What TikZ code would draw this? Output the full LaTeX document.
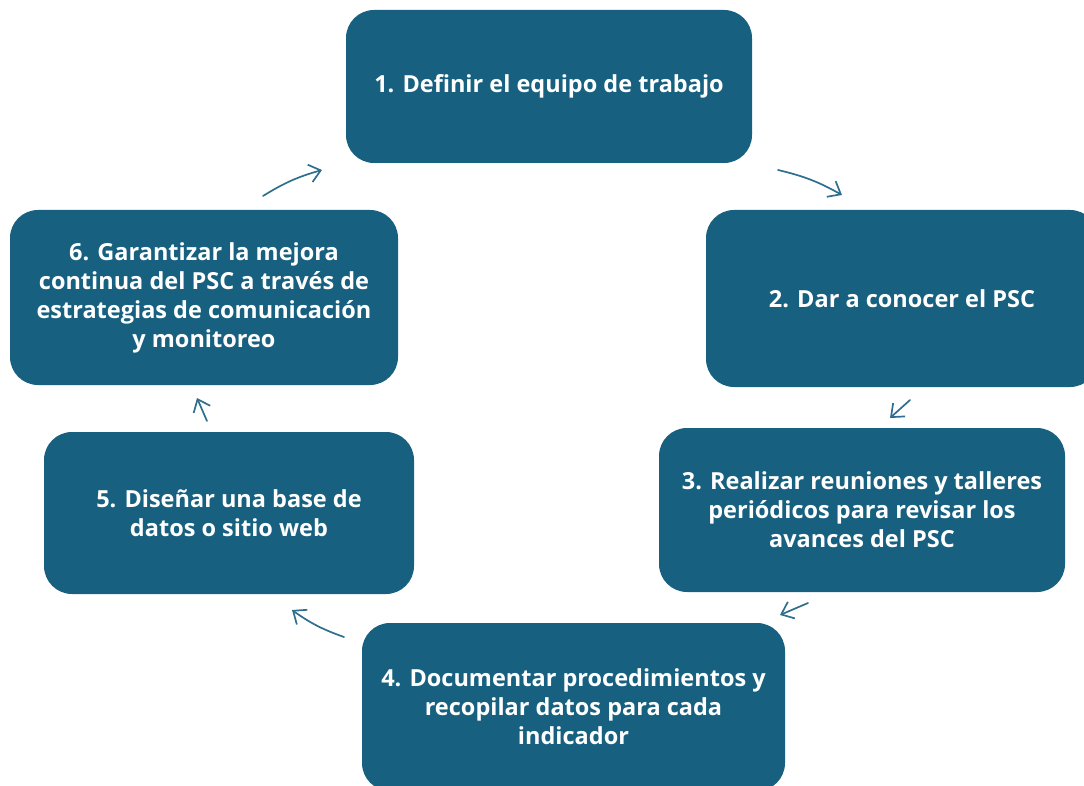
\documentclass[tikz,border=0pt]{standalone}
\usepackage{fontspec}
\setmainfont{Open Sans}
\usetikzlibrary{arrows.meta,positioning}
\definecolor{boxblue}{HTML}{17607F}
\definecolor{arrowblue}{HTML}{2F6E8E}
\tikzset{
  stepbox/.style={fill=boxblue, draw=none, rounded corners=28pt, align=center,
    text=white, font=\fontsize{23.5}{29}\selectfont\bfseries, inner sep=0pt},
  cyc/.style={draw=arrowblue, line width=1.7pt, line cap=round,
    -{Straight Barb[length=11pt,width=18pt,line width=1.7pt]}, bend left=8}
}
\begin{document}
\begin{tikzpicture}[x=1pt,y=-1pt]
\useasboundingbox (0,0) rectangle (1084,786);
\clip (0,0) rectangle (1084,786);
% boxes
\node[stepbox, minimum width=406pt, minimum height=153pt] (n1) at (549,86.5) {1. Definir el equipo de trabajo};
\node[stepbox, minimum width=392pt, minimum height=177pt] (n2) at (902,298.5) {2. Dar a conocer el PSC};
\node[stepbox, minimum width=406pt, minimum height=164pt] (n3) at (862,510) {3. Realizar reuniones y talleres\\periódicos para revisar los\\avances del PSC};
\node[stepbox, minimum width=423pt, minimum height=168pt] (n4) at (573.5,707) {4. Documentar procedimientos y\\recopilar datos para cada\\indicador};
\node[stepbox, minimum width=370pt, minimum height=162pt] (n5) at (229,513) {5. Diseñar una base de\\datos o sitio web};
\node[stepbox, minimum width=388pt, minimum height=175pt] (n6) at (204,297.5) {6. Garantizar la mejora\\continua del PSC a través de\\estrategias de comunicación\\y monitoreo};
% connector ends
\coordinate (a61) at (263,196); \coordinate (b61) at (322,170);
\coordinate (a12) at (778,170); \coordinate (b12) at (842,195);
\coordinate (a23) at (910,400); \coordinate (b23) at (890,418);
\coordinate (a34) at (808,603); \coordinate (b34) at (780,615);
\coordinate (a45) at (344,637); \coordinate (b45) at (292,610);
\coordinate (a56) at (207,421); \coordinate (b56) at (197,398);
\draw[cyc] (a61) to (b61);
\draw[cyc] (a12) to (b12);
\draw[cyc, bend left=0] (a23) to (b23);
\draw[cyc, bend left=0] (a34) to (b34);
\draw[cyc] (a45) to (b45);
\draw[cyc, bend left=0] (a56) to (b56);
\end{tikzpicture}
\end{document}
